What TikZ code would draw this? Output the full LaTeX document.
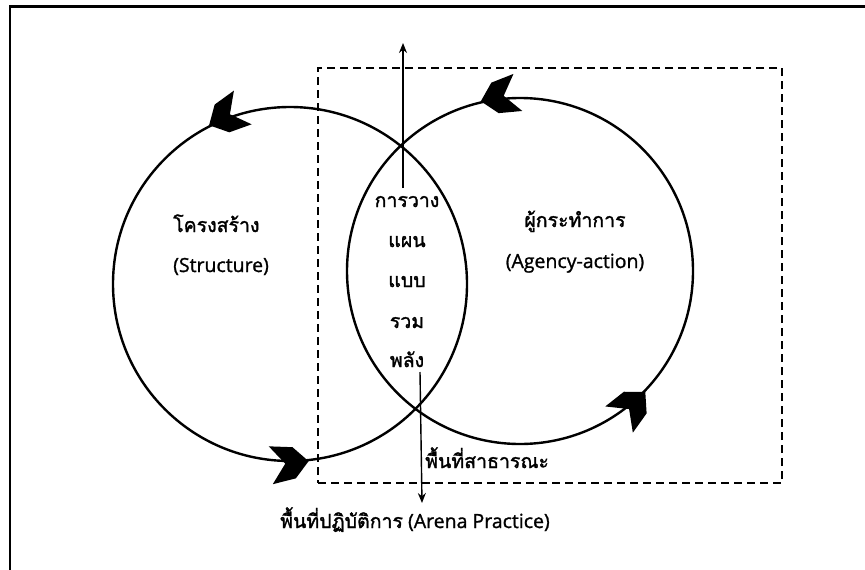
\documentclass[tikz,border=0pt]{standalone}
\usepackage{fontspec}
\setmainfont[FakeBold=1.2]{Open Sans}
\newfontfamily\thai[Script=Thai,FakeBold=1.6]{Loma}
\usetikzlibrary{arrows.meta}
\begin{document}
\begin{tikzpicture}[x=1pt,y=-1pt,
  ring/.style={circle, draw, line width=2.4pt, inner sep=0pt},
  lbl/.style={font=\fontsize{19.5}{24}\selectfont, inner sep=0pt},
  thailbl/.style={font=\thai\fontsize{19.5}{24}\selectfont, inner sep=0pt},
  ptr/.style={line width=1.4pt, -{Stealth[length=10pt,width=8pt]}},
  bigarrow/.pic={\fill[scale=1.12] (0,0) -- (-13,-14) -- (-34,-17) -- (-21,0) -- (-34,17) -- (-13,14) -- cycle;}
]
\useasboundingbox (0,0) rectangle (865,570);
\draw[line width=2.5pt] (865,6.5) -- (10,6.5) -- (10,570);
% dashed public-space box
\node[draw, line width=2.2pt, dash pattern=on 8pt off 5pt, minimum width=464pt, minimum height=415pt, inner sep=0pt, anchor=north west] (box) at (317,67) {};
% circles
\node[ring, minimum size=354pt] (L) at (290,284) {};
\node[ring, minimum size=346pt] (R) at (520,271) {};
% circle arrowheads
\pic[rotate=207.8] at (L.117.8) {bigarrow};
\pic[rotate=6.1] at (L.276.1) {bigarrow};
\pic[rotate=193.4] at (R.103.4) {bigarrow};
\pic[rotate=46.4] at (R.316.4) {bigarrow};
% labels
\node[thailbl, anchor=base west] (s1) at (173,232) {โครงสร้าง};
\node[lbl, anchor=base west] (s2) at (173,272) {(Structure)};
\node[thailbl, anchor=base] (a1) at (575,227) {ผู้กระทำการ};
\node[lbl, anchor=base] (a2) at (575,268) {(Agency-action)};
\node[thailbl, anchor=base] (c1) at (407,207) {การวาง};
\node[thailbl, anchor=base] (c2) at (407,247) {แผน};
\node[thailbl, anchor=base] (c3) at (407,287) {แบบ};
\node[thailbl, anchor=base] (c4) at (407,328) {รวม};
\node[thailbl, anchor=base] (c5) at (407,367) {พลัง};
\node[thailbl, anchor=base west] (pub) at (425,468) {พื้นที่สาธารณะ};
\node[lbl, anchor=base west] (arena) at (280,528) {{\thai พื้นที่ปฏิบัติการ} (Arena Practice)};
% vertical arrows
\coordinate (upBot) at (403,188);
\coordinate (upTop) at (403,43);
\coordinate (dnTop) at (420,372);
\coordinate (dnBot) at (422,503);
\draw[ptr] (upBot) -- (upTop);
\draw[ptr] (dnTop) -- (dnBot);
\end{tikzpicture}
\end{document}
